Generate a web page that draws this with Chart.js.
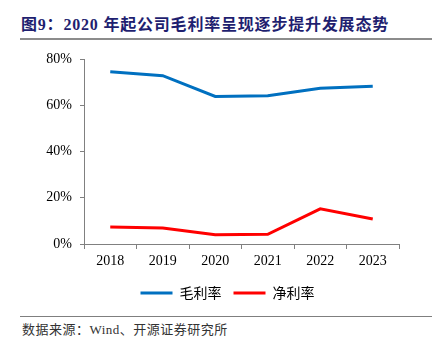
<!DOCTYPE html>
<html><head><meta charset="utf-8">
<script src="https://cdn.jsdelivr.net/npm/chart.js@4/dist/chart.umd.min.js"></script>
<style>
html,body{margin:0;padding:0;background:#fff;}
#wrap{position:relative;width:440px;height:356px;overflow:hidden;}
#title{position:absolute;left:21px;top:14px;font-family:"Liberation Serif","Noto Sans CJK SC";font-weight:bold;font-size:16px;color:#1f1f70;letter-spacing:0.8px;white-space:nowrap;line-height:22px;}
#tline{position:absolute;left:20px;top:38px;width:412px;height:2px;background:#8c8c8c;}
#bline{position:absolute;left:20px;top:316px;width:412px;height:1px;background:#7f7f7f;}
#src{position:absolute;left:22px;top:321px;font-family:"Liberation Serif","Noto Sans CJK SC";font-size:13px;color:#333;letter-spacing:0.5px;white-space:nowrap;line-height:18px;}
#cv{position:absolute;left:0;top:0;}
</style></head>
<body><div id="wrap">
<div id="title">图9：2020 年起公司毛利率呈现逐步提升发展态势</div>
<div id="tline"></div>
<canvas id="cv" width="440" height="310"></canvas>
<div id="bline"></div>
<div id="src">数据来源：Wind、开源证券研究所</div>
</div>
<script>
const categories = ["2018","2019","2020","2021","2022","2023"];
const grossMargin = [74.5, 72.8, 63.8, 64.1, 67.3, 68.2];
const netMargin = [7.3, 6.9, 4.0, 4.2, 15.2, 10.8];
const seriesNames = ["毛利率","净利率"];
const yTicks = [0, 20, 40, 60, 80];

const legendShift = {
  id: 'legendShift',
  afterLayout(chart) {
    const lg = chart.legend;
    if (lg) { lg.left += 28; lg.right += 28; }
  }
};

new Chart(document.getElementById('cv'), {
  type: 'line',
  data: {
    labels: categories,
    datasets: [
      {label: seriesNames[0], data: grossMargin, borderColor: '#0070C0', backgroundColor: '#0070C0', borderWidth: 3, pointRadius: 0, tension: 0},
      {label: seriesNames[1], data: netMargin, borderColor: '#FF0000', backgroundColor: '#FF0000', borderWidth: 3, pointRadius: 0, tension: 0}
    ]
  },
  plugins: [legendShift],
  options: {
    responsive: false,
    animation: false,
    devicePixelRatio: 1,
    layout: {padding: {left: 0, right: 41, top: 59, bottom: 0}},
    scales: {
      x: {
        offset: true,
        grid: {offset: true, drawOnChartArea: false, drawTicks: true, tickLength: 5, color: '#808080', lineWidth: 1},
        border: {color: '#808080', width: 1},
        ticks: {font: {family: 'Liberation Serif', size: 14}, color: '#000', padding: 4, maxRotation: 0},
        afterFit: s => { s.height = 30; }
      },
      y: {
        min: 0, max: 80,
        afterBuildTicks: s => { s.ticks = yTicks.map(v => ({value: v})); },
        grid: {drawOnChartArea: false, drawTicks: true, tickLength: 4, color: '#808080'},
        border: {color: '#808080', width: 1},
        ticks: {font: {family: 'Liberation Serif', size: 14}, color: '#000', padding: 8, callback: v => v + '%'},
        afterFit: s => { s.width = 84; }
      }
    },
    plugins: {
      legend: {
        position: 'bottom',
        labels: {
          boxWidth: 32, boxHeight: 3, padding: 12,
          font: {family: 'Noto Sans CJK SC', size: 14}, color: '#000',
          generateLabels: chart => Chart.defaults.plugins.legend.labels.generateLabels(chart).map(l => Object.assign(l, {lineWidth: 0, fillStyle: l.strokeStyle}))
        }
      },
      tooltip: {enabled: false}
    }
  }
});
</script>
</body></html>
